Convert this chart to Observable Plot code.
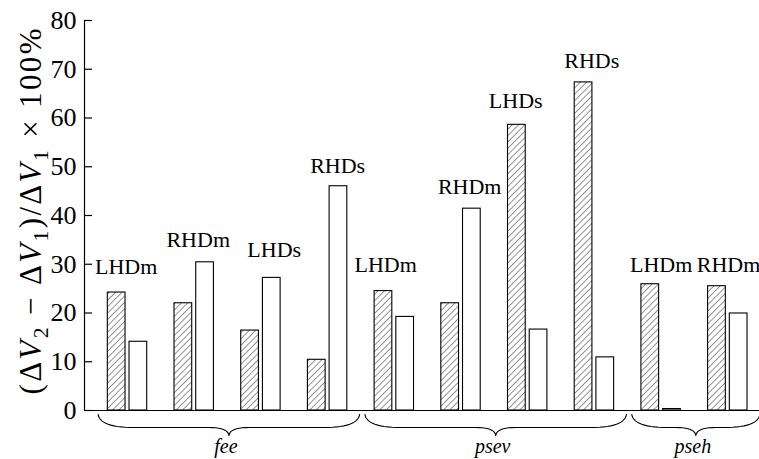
<!DOCTYPE html>
<html>
<head>
<meta charset="utf-8">
<script src="https://cdn.jsdelivr.net/npm/d3@7"></script>
<script src="https://cdn.jsdelivr.net/npm/@observablehq/plot@0.6"></script>
<style>
  html, body { margin: 0; padding: 0; background: #fff; }
  #chart svg text { font-family: 'Liberation Serif', 'Times New Roman', serif; }
</style>
</head>
<body>
<svg width="0" height="0" style="position:absolute">
  <defs>
    <pattern id="hatch" width="4.5" height="4.5" patternUnits="userSpaceOnUse" patternTransform="rotate(45)">
      <rect width="4.5" height="4.5" fill="white"></rect>
      <line x1="0" y1="0" x2="0" y2="4.5" stroke="#111" stroke-width="0.9"></line>
    </pattern>
  </defs>
</svg>
<div id="chart"></div>
<script>
// ---- data ----
const families = ["fee", "psev", "pseh"];
const familyFirst = [0, 4, 8];
const familyLast = [3, 7, 9];
const categories = ["LHDm", "RHDm", "LHDs", "RHDs", "LHDm", "RHDm", "LHDs", "RHDs", "LHDm", "RHDm"];
const hatchedValues = [24.2, 22.0, 16.4, 10.4, 24.5, 22.0, 58.6, 67.3, 25.9, 25.5];
const openValues = [14.1, 30.4, 27.2, 46.0, 19.2, 41.4, 16.6, 10.9, 0.3, 19.9];
const labelAt = [-0.02, 1.06, 2.2, 3.15, 3.87, 5.13, 5.82, 6.96, 8.0, 9.01];
const labelY = [29.4, 35.0, 32.9, 50.2, 29.8, 45.9, 63.4, 71.8, 29.8, 29.8];
const yTicks = [0, 10, 20, 30, 40, 50, 60, 70, 80];

// ---- layout ----
const W = 759, H = 459, mL = 84, mR = 0, mT = 20, mB = 49;
const xDomain = [-0.645, 9.475];
const yDomain = [0, 80];
const ux = (xDomain[1] - xDomain[0]) / (W - mL - mR); // data units per px (x)
const uy = (yDomain[1] - yDomain[0]) / (H - mT - mB); // data units per px (y)
const serif = "Liberation Serif";

const bars = d3.range(categories.length).flatMap(i => [
  {i, kind: "hatched", v: hatchedValues[i]},
  {i, kind: "open", v: openValues[i]}
]);
const labelRows = categories.map((c, i) => ({c, x: labelAt[i], y: labelY[i]}));

// brace geometry (pixel offsets converted to data units)
function quad(p0, p1, p2, n) {
  const out = [];
  for (let k = 0; k <= n; k++) {
    const t = k / n;
    out.push([
      (1 - t) * (1 - t) * p0[0] + 2 * (1 - t) * t * p1[0] + t * t * p2[0],
      (1 - t) * (1 - t) * p0[1] + 2 * (1 - t) * t * p1[1] + t * t * p2[1]
    ]);
  }
  return out;
}
const braceRows = [];
const familyRows = [];
families.forEach((f, j) => {
  const x0 = familyFirst[j] - 0.44, x1 = familyLast[j] + 0.48, m = (x0 + x1) / 2;
  const yTop = -4 * uy, yMid = -17 * uy, yTip = -25 * uy;
  const left = [
    ...quad([x0, yTop], [x0 + 2 * ux, yMid], [x0 + 36 * ux, yMid], 14),
    ...quad([m - 20 * ux, yMid], [m - 1 * ux, yMid], [m, yTip], 10)
  ];
  const right = left.map(([x, y]) => [2 * m - x, y]).reverse();
  for (const [x, y] of [...left, ...right]) braceRows.push({f, x, y});
  familyRows.push({f, x: m - 3 * ux, y: -36 * uy});
});

const chart = Plot.plot({
  width: W, height: H,
  marginLeft: mL, marginRight: mR, marginTop: mT, marginBottom: mB,
  style: {fontFamily: serif, color: "black", background: "white", overflow: "visible"},
  x: {domain: xDomain, axis: null},
  y: {domain: yDomain, label: null},
  marks: [
    Plot.rect(bars.filter(d => d.kind === "hatched"), {
      x1: d => d.i - 19.7 * ux, x2: d => d.i - 2 * ux, y1: 0, y2: "v",
      fill: "url(#hatch)", stroke: "black", strokeWidth: 1.1
    }),
    Plot.rect(bars.filter(d => d.kind === "open"), {
      x1: d => d.i + 2 * ux, x2: d => d.i + 19.7 * ux, y1: 0, y2: "v",
      fill: "white", stroke: "black", strokeWidth: 1.1
    }),
    Plot.ruleY([0], {stroke: "black", strokeWidth: 1.2}),
    Plot.ruleX([xDomain[0]], {y1: 0, y2: 80, stroke: "black", strokeWidth: 1.2}),
    Plot.axisY(yTicks, {tickSize: 0, tickPadding: 8, fontSize: 26, fontFamily: serif, label: null, fill: "black"}),
    Plot.axisY(yTicks, {text: null, tickSize: 8, dx: 8, label: null, stroke: "black", strokeWidth: 1.2}),
    Plot.text(labelRows, {x: "x", y: "y", text: "c", fontSize: 22, fontFamily: serif, fill: "black", lineAnchor: "middle"}),
    Plot.line(braceRows, {x: "x", y: "y", z: "f", stroke: "black", strokeWidth: 1.1}),
    Plot.text(familyRows, {x: "x", y: "y", text: "f", fontSize: 20, fontFamily: serif, fontStyle: "italic", fill: "black", lineAnchor: "middle"}),
    Plot.text(["YTITLE"], {frameAnchor: "left", rotate: -90, dx: -53, dy: -4, fontSize: 31, fontFamily: serif, fill: "black", textAnchor: "middle", lineAnchor: "middle"})
  ]
});

// rich y-axis title: (ΔV2 − ΔV1)/ΔV1 × 100%
const t = d3.select(chart).selectAll("text").filter(function () { return this.textContent === "YTITLE"; });
t.text(null).attr("textLength", 366).attr("lengthAdjust", "spacing");
const parts = [["(Δ"], ["V", "i"], ["2", "s"], [" − Δ"], ["V", "i"], ["1", "s"], [")/Δ"], ["V", "i"], ["1", "s"], [" × 100%"]];
let shifted = false;
for (const [s, kind] of parts) {
  const ts = t.append("tspan").text(s);
  if (kind === "i") ts.attr("font-style", "italic");
  if (kind === "s") { ts.attr("font-size", "70%").attr("dy", "0.3em"); shifted = true; }
  else if (shifted) { ts.attr("dy", "-0.21em"); shifted = false; }
}
document.getElementById("chart").appendChild(chart);
</script>
</body>
</html>
